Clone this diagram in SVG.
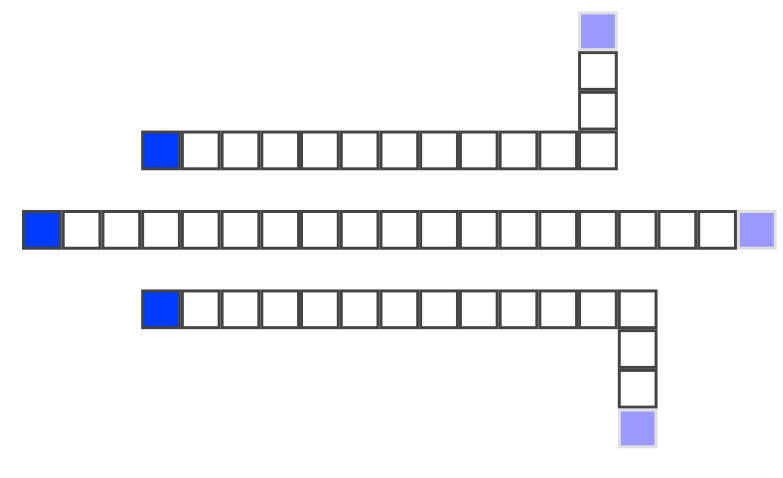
<svg xmlns="http://www.w3.org/2000/svg" width="783" height="478" viewBox="0 0 783 478">
<style>
.c{fill:#ffffff;stroke:#444444;stroke-width:1.5}
.h{fill:#003cff;stroke:#444444;stroke-width:1.5}
.t{fill:#9999ff;stroke:#e0e0e0;stroke-width:1.5}
</style>
<defs>
<rect id="cell" x="0.75" y="0.75" width="18.5" height="18.5"/>
</defs>
<rect width="783" height="478" fill="#ffffff"/>
<g transform="translate(22,210) scale(1.986)">
<g id="top-chain">
<use href="#cell" class="h" x="60" y="-40"/>
<use href="#cell" class="c" x="80" y="-40"/>
<use href="#cell" class="c" x="100" y="-40"/>
<use href="#cell" class="c" x="120" y="-40"/>
<use href="#cell" class="c" x="140" y="-40"/>
<use href="#cell" class="c" x="160" y="-40"/>
<use href="#cell" class="c" x="180" y="-40"/>
<use href="#cell" class="c" x="200" y="-40"/>
<use href="#cell" class="c" x="220" y="-40"/>
<use href="#cell" class="c" x="240" y="-40"/>
<use href="#cell" class="c" x="260" y="-40"/>
<use href="#cell" class="c" x="280" y="-40"/>
<use href="#cell" class="c" x="280" y="-60"/>
<use href="#cell" class="c" x="280" y="-80"/>
<use href="#cell" class="t" x="280" y="-100"/>
</g>
<g id="middle-chain">
<use href="#cell" class="h" x="0" y="0"/>
<use href="#cell" class="c" x="20" y="0"/>
<use href="#cell" class="c" x="40" y="0"/>
<use href="#cell" class="c" x="60" y="0"/>
<use href="#cell" class="c" x="80" y="0"/>
<use href="#cell" class="c" x="100" y="0"/>
<use href="#cell" class="c" x="120" y="0"/>
<use href="#cell" class="c" x="140" y="0"/>
<use href="#cell" class="c" x="160" y="0"/>
<use href="#cell" class="c" x="180" y="0"/>
<use href="#cell" class="c" x="200" y="0"/>
<use href="#cell" class="c" x="220" y="0"/>
<use href="#cell" class="c" x="240" y="0"/>
<use href="#cell" class="c" x="260" y="0"/>
<use href="#cell" class="c" x="280" y="0"/>
<use href="#cell" class="c" x="300" y="0"/>
<use href="#cell" class="c" x="320" y="0"/>
<use href="#cell" class="c" x="340" y="0"/>
<use href="#cell" class="t" x="360" y="0"/>
</g>
<g id="bottom-chain">
<use href="#cell" class="h" x="60" y="40"/>
<use href="#cell" class="c" x="80" y="40"/>
<use href="#cell" class="c" x="100" y="40"/>
<use href="#cell" class="c" x="120" y="40"/>
<use href="#cell" class="c" x="140" y="40"/>
<use href="#cell" class="c" x="160" y="40"/>
<use href="#cell" class="c" x="180" y="40"/>
<use href="#cell" class="c" x="200" y="40"/>
<use href="#cell" class="c" x="220" y="40"/>
<use href="#cell" class="c" x="240" y="40"/>
<use href="#cell" class="c" x="260" y="40"/>
<use href="#cell" class="c" x="280" y="40"/>
<use href="#cell" class="c" x="300" y="40"/>
<use href="#cell" class="c" x="300" y="60"/>
<use href="#cell" class="c" x="300" y="80"/>
<use href="#cell" class="t" x="300" y="100"/>
</g>
</g>
</svg>
